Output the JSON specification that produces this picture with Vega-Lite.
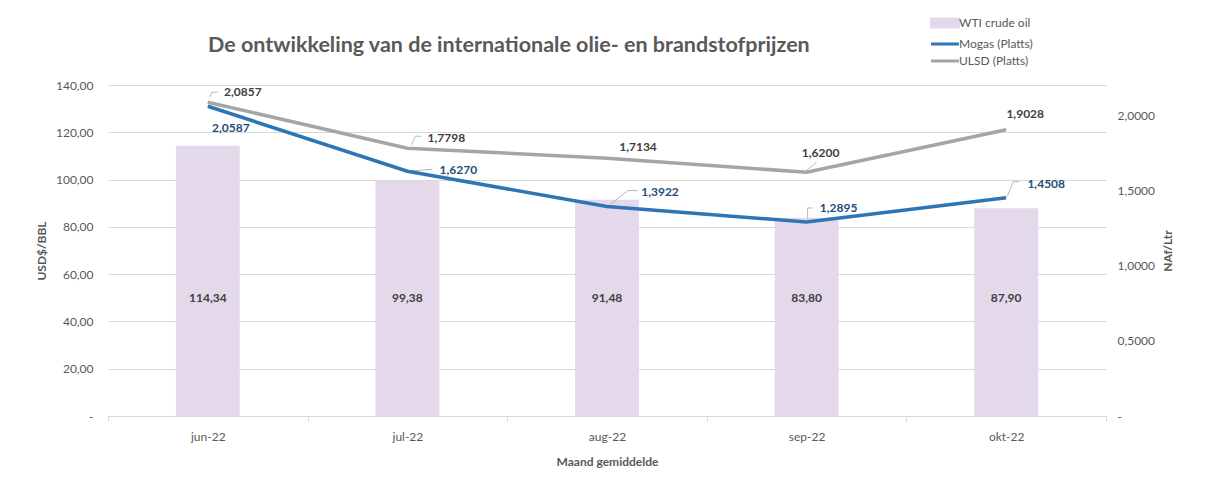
{
  "$schema": "https://vega.github.io/schema/vega-lite/v6.json",
  "width": 998,
  "height": 331,
  "autosize": {"type": "none"},
  "padding": {"left": 108, "top": 85, "right": 102, "bottom": 82},
  "background": "white",
  "config": {
    "font": "Lato",
    "view": {"stroke": null},
    "locale": {"number": {"decimal": ",", "thousands": ".", "grouping": [3], "currency": ["", ""]}}
  },
  "title": {
    "text": "De ontwikkeling van de internationale olie- en brandstofprijzen",
    "anchor": "start",
    "frame": "group",
    "dx": 100,
    "dy": 44,
    "offset": 0,
    "fontSize": 21.5,
    "fontWeight": "bold",
    "color": "#595959",
    "font": "Lato"
  },
  "data": {
    "values": [
      {"month": "jun-22", "wti": 114.34, "Mogas (Platts)": 2.0587, "ULSD (Platts)": 2.0857},
      {"month": "jul-22", "wti": 99.38, "Mogas (Platts)": 1.6270, "ULSD (Platts)": 1.7798},
      {"month": "aug-22", "wti": 91.48, "Mogas (Platts)": 1.3922, "ULSD (Platts)": 1.7134},
      {"month": "sep-22", "wti": 83.80, "Mogas (Platts)": 1.2895, "ULSD (Platts)": 1.6200},
      {"month": "okt-22", "wti": 87.90, "Mogas (Platts)": 1.4508, "ULSD (Platts)": 1.9028}
    ]
  },
  "encoding": {
    "x": {
      "field": "month",
      "type": "ordinal",
      "sort": ["jun-22", "jul-22", "aug-22", "sep-22", "okt-22"],
      "scale": {"paddingInner": 0, "paddingOuter": 0},
      "axis": {
        "title": "Maand gemiddelde",
        "labelAngle": 0,
        "tickBand": "extent",
        "domainColor": "#d9d9d9",
        "tickColor": "#d9d9d9",
        "tickSize": 5,
        "labelColor": "#595959",
        "labelFontSize": 12,
        "labelPadding": 10,
        "titleColor": "#595959",
        "titleFontSize": 12,
        "titleFontWeight": "bold",
        "titlePadding": 14,
        "grid": false
      }
    }
  },
  "layer": [
    {
      "layer": [
        {
          "mark": {"type": "bar", "width": {"band": 0.32}},
          "encoding": {
            "y": {
              "field": "wti",
              "type": "quantitative",
              "scale": {"domain": [0, 140]},
              "axis": {
                "title": "USD$/BBL",
                "values": [0, 20, 40, 60, 80, 100, 120, 140],
                "labelExpr": "datum.value == 0 ? '-' : replace(format(datum.value, '.2f'), '.', ',')",
                "grid": true,
                "gridColor": "#d9d9d9",
                "ticks": false,
                "domain": false,
                "labelPadding": 15,
                "labelColor": "#595959",
                "labelFontSize": 12,
                "titleColor": "#595959",
                "titleFontSize": 12,
                "titleFontWeight": "bold",
                "titlePadding": 7
              }
            },
            "color": {
              "datum": "WTI crude oil",
              "type": "nominal",
              "title": null,
              "scale": {
                "domain": ["WTI crude oil", "Mogas (Platts)", "ULSD (Platts)"],
                "range": ["#e4d9eb", "#2e75b6", "#a5a5a5"]
              },
              "legend": {
                "orient": "none",
                "direction": "vertical",
                "legendX": 826,
                "legendY": -73,
                "title": null,
                "padding": 0,
                "rowPadding": 0,
                "labelOffset": 3,
                "labelFontSize": 12,
                "labelColor": "#595959",
                "symbolSize": 361,
                "encode": {
                  "symbols": {
                    "update": {
                      "shape": {"signal": "datum.value === 'WTI crude oil' ? 'M-1.42,-0.42H1.42V0.42H-1.42Z' : 'M-1.47,0H1.47'"},
                      "fill": {"signal": "datum.value === 'WTI crude oil' ? '#e4d9eb' : 'transparent'"},
                      "stroke": {"signal": "datum.value === 'WTI crude oil' ? 'transparent' : (datum.value === 'Mogas (Platts)' ? '#2e75b6' : '#a5a5a5')"},
                      "strokeWidth": {"value": 3},
                      "opacity": {"value": 1}
                    }
                  }
                }
              }
            }
          }
        },
        {
          "mark": {"type": "text", "fontWeight": "bold", "fontSize": 12, "color": "#404040"},
          "encoding": {
            "y": {"datum": 50, "type": "quantitative"},
            "text": {"field": "wti", "type": "quantitative", "format": ".2f"}
          }
        }
      ]
    },
    {
      "transform": [{"fold": ["Mogas (Platts)", "ULSD (Platts)"], "as": ["series", "price"]}],
      "encoding": {
        "y": {
          "field": "price",
          "type": "quantitative",
          "scale": {"domain": [0, 2.2]},
          "axis": {
            "orient": "right",
            "title": "NAf/Ltr",
            "titleAngle": 270,
            "values": [0, 0.5, 1, 1.5, 2],
            "labelExpr": "datum.value == 0 ? '-' : replace(format(datum.value, '.4f'), '.', ',')",
            "grid": false,
            "ticks": false,
            "domain": false,
            "labelAlign": "left",
            "labelPadding": 11,
            "labelColor": "#595959",
            "labelFontSize": 12,
            "titleColor": "#595959",
            "titleFontSize": 12,
            "titleFontWeight": "bold",
            "titlePadding": 20
          }
        }
      },
      "layer": [
        {"transform": [{"filter": "datum.series == 'ULSD (Platts)' && datum.month == 'jun-22'"}],
         "encoding": {"x2": {"field": "month"}, "y2": {"field": "price"}},
         "layer": [
           {"mark": {"type": "rule", "color": "#a6a6a6", "strokeWidth": 0.8, "xOffset": 2, "yOffset": -5, "x2Offset": 4, "y2Offset": -10}},
           {"mark": {"type": "rule", "color": "#a6a6a6", "strokeWidth": 0.8, "xOffset": 4, "yOffset": -10, "x2Offset": 10, "y2Offset": -10}}
         ]},
        {"transform": [{"filter": "datum.series == 'ULSD (Platts)' && datum.month == 'jul-22'"}],
         "encoding": {"x2": {"field": "month"}, "y2": {"field": "price"}},
         "layer": [
           {"mark": {"type": "rule", "color": "#a6a6a6", "strokeWidth": 0.8, "xOffset": 4, "yOffset": -3, "x2Offset": 8, "y2Offset": -12}},
           {"mark": {"type": "rule", "color": "#a6a6a6", "strokeWidth": 0.8, "xOffset": 8, "yOffset": -12, "x2Offset": 14, "y2Offset": -12}}
         ]},
        {"transform": [{"filter": "datum.series == 'Mogas (Platts)' && datum.month == 'jul-22'"}],
         "encoding": {"x2": {"field": "month"}, "y2": {"field": "price"}},
         "layer": [
           {"mark": {"type": "rule", "color": "#a6a6a6", "strokeWidth": 0.8, "xOffset": 2, "yOffset": 0, "x2Offset": 25, "y2Offset": -2}}
         ]},
        {"transform": [{"filter": "datum.series == 'Mogas (Platts)' && datum.month == 'aug-22'"}],
         "encoding": {"x2": {"field": "month"}, "y2": {"field": "price"}},
         "layer": [
           {"mark": {"type": "rule", "color": "#a6a6a6", "strokeWidth": 0.8, "xOffset": 3, "yOffset": -2, "x2Offset": 21, "y2Offset": -16}},
           {"mark": {"type": "rule", "color": "#a6a6a6", "strokeWidth": 0.8, "xOffset": 21, "yOffset": -16, "x2Offset": 31, "y2Offset": -16}}
         ]},
        {"transform": [{"filter": "datum.series == 'ULSD (Platts)' && datum.month == 'sep-22'"}],
         "encoding": {"x2": {"field": "month"}, "y2": {"field": "price"}},
         "layer": [
           {"mark": {"type": "rule", "color": "#a6a6a6", "strokeWidth": 0.8, "xOffset": 0, "yOffset": -2, "x2Offset": 10, "y2Offset": -10}}
         ]},
        {"transform": [{"filter": "datum.series == 'Mogas (Platts)' && datum.month == 'sep-22'"}],
         "encoding": {"x2": {"field": "month"}, "y2": {"field": "price"}},
         "layer": [
           {"mark": {"type": "rule", "color": "#a6a6a6", "strokeWidth": 0.8, "xOffset": 1, "yOffset": -3, "x2Offset": 1, "y2Offset": -14}},
           {"mark": {"type": "rule", "color": "#a6a6a6", "strokeWidth": 0.8, "xOffset": 1, "yOffset": -14, "x2Offset": 6, "y2Offset": -14}}
         ]},
        {"transform": [{"filter": "datum.series == 'Mogas (Platts)' && datum.month == 'okt-22'"}],
         "encoding": {"x2": {"field": "month"}, "y2": {"field": "price"}},
         "layer": [
           {"mark": {"type": "rule", "color": "#a6a6a6", "strokeWidth": 0.8, "xOffset": 1, "yOffset": -1, "x2Offset": 7, "y2Offset": -16}},
           {"mark": {"type": "rule", "color": "#a6a6a6", "strokeWidth": 0.8, "xOffset": 7, "yOffset": -16, "x2Offset": 13, "y2Offset": -16}}
         ]},
        {
          "mark": {"type": "line", "strokeWidth": 3.5},
          "encoding": {"color": {"field": "series", "type": "nominal", "title": null}}
        },
        {"transform": [{"filter": "datum.series == 'ULSD (Platts)' && datum.month == 'jun-22'"}],
         "mark": {"type": "text", "dx": 35, "dy": -10, "fontWeight": "bold", "fontSize": 12, "color": "#404040"},
         "encoding": {"text": {"field": "price", "type": "quantitative", "format": ".4f"}}},
        {"transform": [{"filter": "datum.series == 'ULSD (Platts)' && datum.month == 'jul-22'"}],
         "mark": {"type": "text", "dx": 39, "dy": -10, "fontWeight": "bold", "fontSize": 12, "color": "#404040"},
         "encoding": {"text": {"field": "price", "type": "quantitative", "format": ".4f"}}},
        {"transform": [{"filter": "datum.series == 'ULSD (Platts)' && datum.month == 'aug-22'"}],
         "mark": {"type": "text", "dx": 31, "dy": -11, "fontWeight": "bold", "fontSize": 12, "color": "#404040"},
         "encoding": {"text": {"field": "price", "type": "quantitative", "format": ".4f"}}},
        {"transform": [{"filter": "datum.series == 'ULSD (Platts)' && datum.month == 'sep-22'"}],
         "mark": {"type": "text", "dx": 14, "dy": -19, "fontWeight": "bold", "fontSize": 12, "color": "#404040"},
         "encoding": {"text": {"field": "price", "type": "quantitative", "format": ".4f"}}},
        {"transform": [{"filter": "datum.series == 'ULSD (Platts)' && datum.month == 'okt-22'"}],
         "mark": {"type": "text", "dx": 19, "dy": -16, "fontWeight": "bold", "fontSize": 12, "color": "#404040"},
         "encoding": {"text": {"field": "price", "type": "quantitative", "format": ".4f"}}},
        {"transform": [{"filter": "datum.series == 'Mogas (Platts)' && datum.month == 'jun-22'"}],
         "mark": {"type": "text", "dx": 23, "dy": 22, "fontWeight": "bold", "fontSize": 12, "color": "#1f4e79"},
         "encoding": {"text": {"field": "price", "type": "quantitative", "format": ".4f"}}},
        {"transform": [{"filter": "datum.series == 'Mogas (Platts)' && datum.month == 'jul-22'"}],
         "mark": {"type": "text", "dx": 51, "dy": -1, "fontWeight": "bold", "fontSize": 12, "color": "#1f4e79"},
         "encoding": {"text": {"field": "price", "type": "quantitative", "format": ".4f"}}},
        {"transform": [{"filter": "datum.series == 'Mogas (Platts)' && datum.month == 'aug-22'"}],
         "mark": {"type": "text", "dx": 53, "dy": -15, "fontWeight": "bold", "fontSize": 12, "color": "#1f4e79"},
         "encoding": {"text": {"field": "price", "type": "quantitative", "format": ".4f"}}},
        {"transform": [{"filter": "datum.series == 'Mogas (Platts)' && datum.month == 'sep-22'"}],
         "mark": {"type": "text", "dx": 32, "dy": -14, "fontWeight": "bold", "fontSize": 12, "color": "#1f4e79"},
         "encoding": {"text": {"field": "price", "type": "quantitative", "format": ".4f"}}},
        {"transform": [{"filter": "datum.series == 'Mogas (Platts)' && datum.month == 'okt-22'"}],
         "mark": {"type": "text", "dx": 40, "dy": -14, "fontWeight": "bold", "fontSize": 12, "color": "#1f4e79"},
         "encoding": {"text": {"field": "price", "type": "quantitative", "format": ".4f"}}}
      ]
    }
  ],
  "resolve": {"scale": {"y": "independent"}}
}
